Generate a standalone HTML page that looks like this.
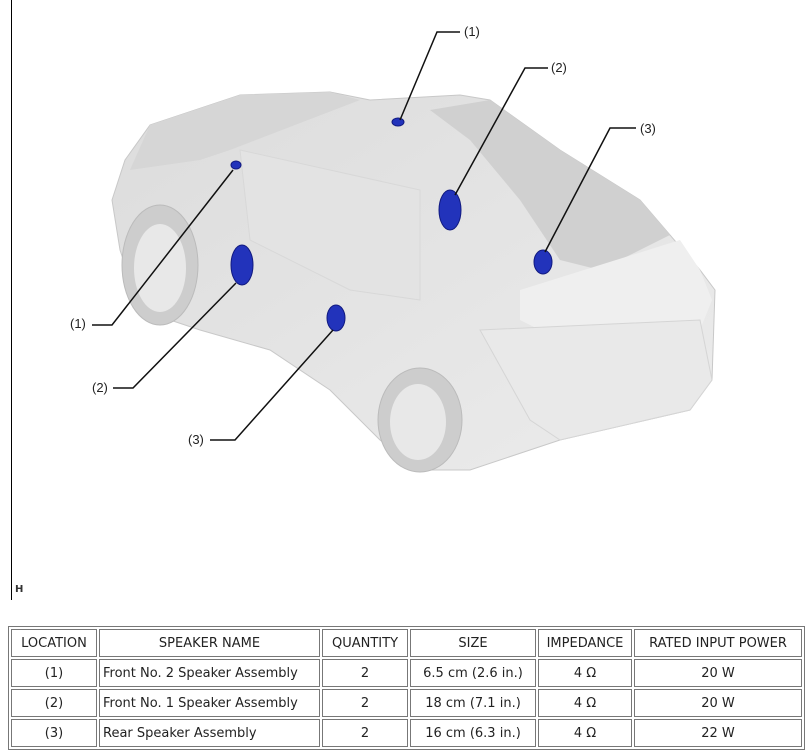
<!DOCTYPE html>
<html><head><meta charset="utf-8"><style>
body{margin:0;width:809px;height:754px;background:#fff;position:relative;overflow:hidden;font-family:"DejaVu Sans","Liberation Sans",sans-serif;}
table{position:absolute;left:8px;top:626px;width:797px;border-collapse:separate;border-spacing:2px;border:1px solid #777;font-size:13px;color:#222;}
td{border:1px solid #777;height:26px;text-align:center;padding:0 3px;white-space:nowrap;}
td.l{text-align:left;}
</style></head><body>
<div style="position:absolute;left:11px;top:0;width:1px;height:600px;background:#000"></div>
<div style="position:absolute;left:15px;top:584px;font-size:10px;font-weight:bold;color:#333">H</div>
<svg width="809" height="600" style="position:absolute;left:0;top:0" font-family="Liberation Sans, sans-serif" font-size="13">
<defs><linearGradient id="g" x1="0" y1="0" x2="1" y2="1"><stop offset="0" stop-color="#dcdcdc"/><stop offset="1" stop-color="#ececec"/></linearGradient></defs>
<polygon points="150,125 240,95 330,92 370,100 460,95 490,100 560,150 640,200 700,270 715,290 712,380 690,410 560,440 470,470 420,470 380,440 330,390 270,350 200,330 140,310 120,250 112,200 125,160" fill="url(#g)" stroke="#c8c8c8"/>
<polygon points="150,125 240,95 330,92 360,100 230,150 200,160 130,170" fill="#d6d6d6"/>
<polygon points="490,100 560,150 640,200 670,235 600,270 560,260 520,200 470,140 430,110" fill="#d0d0d0"/>
<polygon points="520,290 680,240 700,270 712,300 700,330 560,340 520,320" fill="#efefef"/>
<path d="M480,330 L700,320 L712,380 L690,410 L560,440 L530,420 Z" fill="#e9e9e9" stroke="#d5d5d5"/>
<polygon points="240,150 420,190 420,300 350,290 250,240" fill="#e3e3e3" stroke="#d8d8d8"/>
<ellipse cx="160" cy="265" rx="38" ry="60" fill="#cdcdcd" stroke="#bbb"/>
<ellipse cx="160" cy="268" rx="26" ry="44" fill="#e8e8e8"/>
<ellipse cx="420" cy="420" rx="42" ry="52" fill="#cdcdcd" stroke="#bbb"/>
<ellipse cx="418" cy="422" rx="28" ry="38" fill="#e8e8e8"/>
<g fill="#2233bb" stroke="#111a80">
<ellipse cx="398" cy="122" rx="6" ry="4"/>
<ellipse cx="236" cy="165" rx="5" ry="4"/>
<ellipse cx="450" cy="210" rx="11" ry="20"/>
<ellipse cx="543" cy="262" rx="9" ry="12"/>
<ellipse cx="242" cy="265" rx="11" ry="20"/>
<ellipse cx="336" cy="318" rx="9" ry="13"/>
</g>
<g stroke="#111" stroke-width="1.5" fill="none">
<polyline points="460,32 437,32 400,120"/>
<polyline points="548,68 525,68 455,195"/>
<polyline points="636,128 610,128 545,252"/>
<polyline points="92,325 112,325 233,170"/>
<polyline points="113,388 133,388 236,283"/>
<polyline points="210,440 235,440 333,330"/>
</g>
<g fill="#222">
<text x="464" y="36">(1)</text><text x="551" y="72">(2)</text><text x="640" y="133">(3)</text>
<text x="70" y="328">(1)</text><text x="92" y="392">(2)</text><text x="188" y="444">(3)</text>
</g>
</svg>
<table>
<tr><td style="width:78px">LOCATION</td><td>SPEAKER NAME</td><td style="width:78px">QUANTITY</td><td style="width:118px">SIZE</td><td style="width:86px">IMPEDANCE</td><td style="width:160px">RATED INPUT POWER</td></tr>
<tr><td>(1)</td><td class="l">Front No. 2 Speaker Assembly</td><td>2</td><td>6.5 cm (2.6 in.)</td><td>4 Ω</td><td>20 W</td></tr>
<tr><td>(2)</td><td class="l">Front No. 1 Speaker Assembly</td><td>2</td><td>18 cm (7.1 in.)</td><td>4 Ω</td><td>20 W</td></tr>
<tr><td>(3)</td><td class="l">Rear Speaker Assembly</td><td>2</td><td>16 cm (6.3 in.)</td><td>4 Ω</td><td>22 W</td></tr>
</table>
</body></html>
